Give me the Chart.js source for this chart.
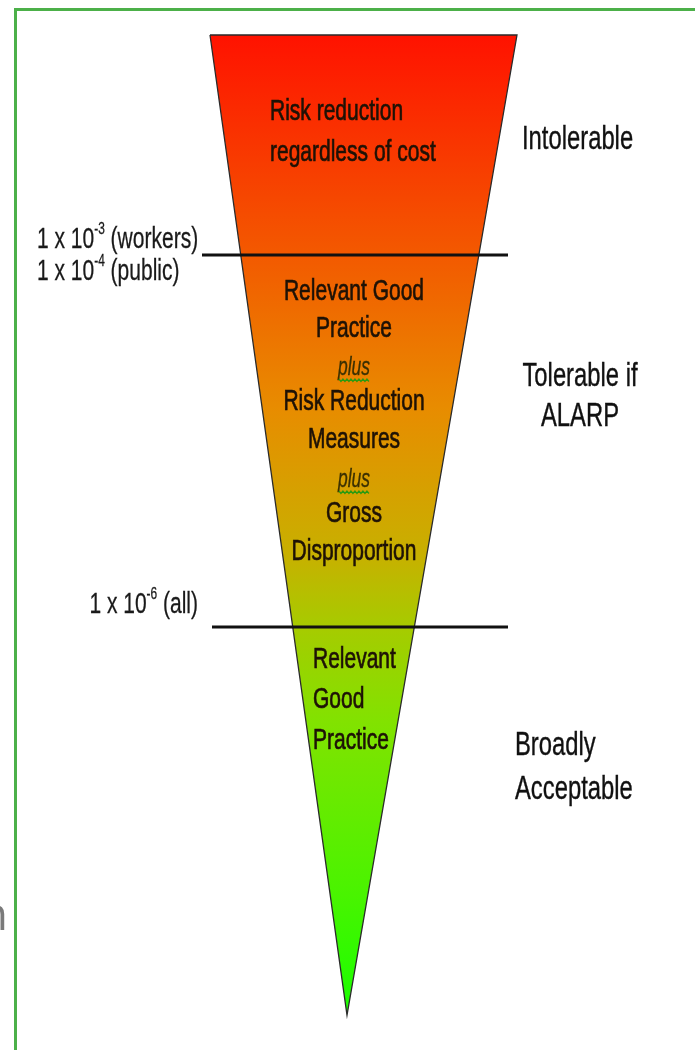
<!DOCTYPE html>
<html>
<head>
<meta charset="utf-8">
<script src="https://cdn.jsdelivr.net/npm/chart.js@4.4.0/dist/chart.umd.min.js"></script>
<style>
  html, body { margin: 0; padding: 0; background: #fff; }
  #wrap { position: relative; width: 695px; height: 1050px; overflow: hidden; }
  #frame { position: absolute; left: 14px; top: 8px; width: 800px; height: 1100px;
           border: 3px solid #4cb049; box-sizing: border-box; }
  canvas { position: absolute; left: 0; top: 0; }
</style>
</head>
<body>
<div id="wrap">
  <div id="frame"></div>
  <canvas id="chart" width="695" height="1050"></canvas>
</div>
<script>
// funnel outline, in diagram units (x across, y down from the top)
const funnelX = [210, 517, 347, 210];
const funnelY = [35, 35, 1015, 35];

// the two risk limits drawn across the funnel
const limitY = [255, 627];
const limitFrom = [202, 212];
const limitTo = [508, 508];

// texts
const zoneLabels = [['Intolerable'], ['Tolerable if', 'ALARP'], ['Broadly', 'Acceptable']];
const actionLabels = [
  ['Risk reduction', 'regardless of cost'],
  ['Relevant Good', 'Practice', 'plus', 'Risk Reduction', 'Measures', 'plus', 'Gross', 'Disproportion'],
  ['Relevant', 'Good', 'Practice']
];
// [base, exponent, rest]
const limitLabels = [
  ['1 x 10', '-3', ' (workers)'],
  ['1 x 10', '-4', ' (public)'],
  ['1 x 10', '-6', ' (all)']
];
const edgeFragment = 'n';

// where the texts sit (diagram units)
const zonePos = [
  { x: 522, y: [140], align: 'left' },
  { x: 580, y: [377, 417], align: 'center' },
  { x: 515, y: [746, 790], align: 'left' }
];
const actionPos = [
  { x: 270, y: [112, 153], align: 'left' },
  { x: 354, y: [292, 329, 368, 402, 440, 480, 514, 552], align: 'center' },
  { x: 313, y: [660, 700, 741], align: 'left' }
];
const limitPos = [
  { x: 37, y: 240, align: 'left' },
  { x: 37, y: 272, align: 'left' },
  { x: 198, y: 605, align: 'right' }
];

const FONT = '"Liberation Sans", Arial, sans-serif';
const SX = 0.7; // the picture is squeezed sideways

function drawRuns(ctx, runs, px, py, size, align, color, italic, weight) {
  const parts = runs.map((t, i) => ({ t, sup: runs.length === 3 && i === 1 }));
  const fontFor = p => (italic ? 'italic ' : '') + (p.sup ? Math.round(size * 0.58) : size) + 'px ' + FONT;
  let w = 0;
  parts.forEach(p => { ctx.font = fontFor(p); p.w = ctx.measureText(p.t).width; w += p.w; });
  let x0 = px;
  if (align === 'center') x0 = px - w * SX / 2;
  if (align === 'right') x0 = px - w * SX;
  ctx.save();
  ctx.translate(x0, py);
  ctx.scale(SX, 1);
  ctx.fillStyle = color;
  ctx.strokeStyle = color;
  ctx.lineWidth = weight || 0;
  ctx.textAlign = 'left';
  ctx.textBaseline = 'middle';
  let x = 0;
  parts.forEach(p => {
    ctx.font = fontFor(p);
    const yy = p.sup ? -size * 0.34 : 0;
    ctx.fillText(p.t, x, yy);
    if (weight) ctx.strokeText(p.t, x, yy);
    x += p.w;
  });
  ctx.restore();
  return w * SX;
}

function squiggle(ctx, x0, x1, y) {
  ctx.save();
  ctx.strokeStyle = '#2c9a10';
  ctx.lineWidth = 1.3;
  ctx.beginPath();
  for (let x = x0, k = 0; x <= x1; x += 2, k++) {
    const yy = y + (k % 2 ? 1.5 : -1);
    if (k === 0) ctx.moveTo(x, yy); else ctx.lineTo(x, yy);
  }
  ctx.stroke();
  ctx.restore();
}

const labelPlugin = {
  id: 'labels',
  afterDatasetsDraw(chart) {
    const ctx = chart.ctx;
    const sx = v => chart.scales.x.getPixelForValue(v);
    const sy = v => chart.scales.y.getPixelForValue(v);

    actionLabels.forEach((lines, b) => {
      const pos = actionPos[b];
      lines.forEach((line, i) => {
        if (line === 'plus') {
          const w = drawRuns(ctx, [line], sx(pos.x), sy(pos.y[i]), 25, pos.align, '#3b3000', true, 0.3);
          squiggle(ctx, sx(pos.x) - w / 2 + 1, sx(pos.x) + w / 2 - 1, sy(pos.y[i]) + 12);
        } else {
          drawRuns(ctx, [line], sx(pos.x), sy(pos.y[i]), 30, pos.align, '#1e1206', false, 0.7);
        }
      });
    });

    zoneLabels.forEach((lines, z) => {
      const pos = zonePos[z];
      lines.forEach((line, i) => drawRuns(ctx, [line], sx(pos.x), sy(pos.y[i]), 34, pos.align, '#111', false, 0.4));
    });

    limitLabels.forEach((runs, i) => {
      const pos = limitPos[i];
      drawRuns(ctx, runs, sx(pos.x), sy(pos.y), 30, pos.align, '#1a1a1a', false, 0.3);
    });

    ctx.save();
    ctx.font = '46px "Open Sans", sans-serif';
    ctx.fillStyle = '#7a7a7a';
    ctx.textAlign = 'right';
    ctx.textBaseline = 'alphabetic';
    ctx.fillText(edgeFragment, sx(8), sy(930));
    ctx.restore();
  }
};

function funnelFill(context) {
  const chart = context.chart;
  if (!chart.chartArea) return '#f60';
  const y0 = chart.scales.y.getPixelForValue(funnelY[0]);
  const y1 = chart.scales.y.getPixelForValue(funnelY[2]);
  const g = chart.ctx.createLinearGradient(0, y0, 0, y1);
  g.addColorStop(0.00, '#ff1200');
  g.addColorStop(0.22, '#f35800');
  g.addColorStop(0.38, '#e88c00');
  g.addColorStop(0.53, '#c8b000');
  g.addColorStop(0.60, '#a8ca00');
  g.addColorStop(0.70, '#82e200');
  g.addColorStop(0.88, '#48f400');
  g.addColorStop(1.00, '#18ff00');
  return g;
}

const datasets = [{
  data: funnelX.map((x, i) => ({ x, y: funnelY[i] })),
  showLine: true,
  fill: 'shape',
  backgroundColor: funnelFill,
  borderColor: '#2a2a2a',
  borderWidth: 1.3,
  pointRadius: 0,
  tension: 0,
  order: 10
}];
limitY.forEach((y, i) => {
  datasets.push({
    data: [{ x: limitFrom[i], y }, { x: limitTo[i], y }],
    showLine: true,
    fill: false,
    borderColor: '#111',
    borderWidth: 3,
    pointRadius: 0,
    order: 0
  });
});

new Chart(document.getElementById('chart'), {
  type: 'scatter',
  data: { datasets },
  options: {
    responsive: false,
    animation: false,
    devicePixelRatio: 1,
    layout: { padding: 0 },
    plugins: { legend: { display: false }, tooltip: { enabled: false } },
    scales: {
      x: { type: 'linear', min: 0, max: 695, display: false },
      y: { type: 'linear', min: 0, max: 1050, reverse: true, display: false }
    }
  },
  plugins: [labelPlugin]
});
</script>
</body>
</html>
